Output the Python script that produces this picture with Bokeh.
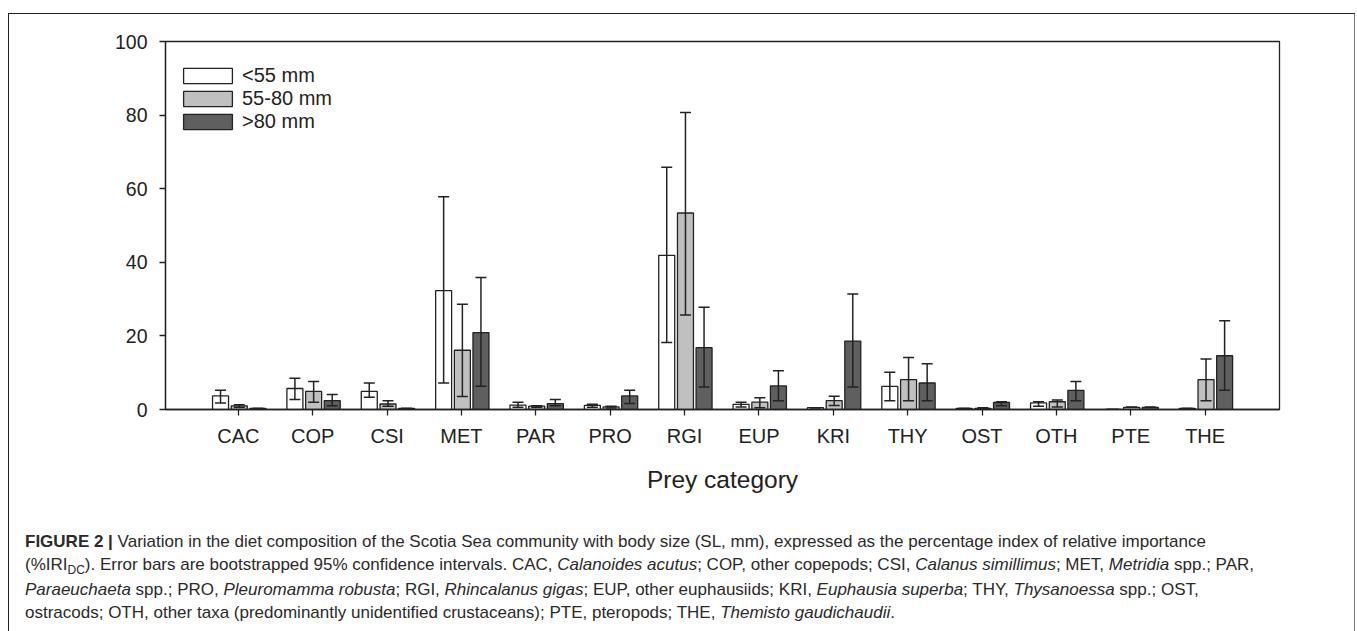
from bokeh.plotting import figure
from bokeh.models import (Range1d, FixedTicker, ColumnDataSource, Whisker, TeeHead,
                          Legend, LegendItem, Label, Div)
from bokeh.layouts import column
from bokeh.embed import file_html
from bokeh.resources import INLINE

categories = ["CAC", "COP", "CSI", "MET", "PAR", "PRO", "RGI", "EUP", "KRI", "THY",
              "OST", "OTH", "PTE", "THE"]
groups = ["<55 mm", "55-80 mm", ">80 mm"]

small_mean = [3.7, 5.7, 4.9, 32.3, 1.2, 1.1, 41.9, 1.4, 0.5, 6.3, 0.3, 1.8, 0.0, 0.3]
small_lo = [1.8, 2.7, 3.3, 7.2, 0.6, 0.6, 18.2, 0.7, 0.5, 2.4, 0.3, 0.9, 0.0, 0.3]
small_hi = [5.2, 8.5, 7.2, 57.8, 2.0, 1.4, 65.8, 2.0, 0.5, 10.1, 0.3, 2.1, 0.0, 0.3]

mid_mean = [1.0, 4.9, 1.5, 16.1, 0.9, 0.7, 53.4, 2.0, 2.4, 8.1, 0.3, 2.1, 0.6, 8.1]
mid_lo = [0.6, 2.0, 0.9, 3.5, 0.6, 0.4, 25.7, 0.5, 1.1, 2.4, 0.0, 0.7, 0.6, 2.4]
mid_hi = [1.3, 7.6, 2.4, 28.6, 1.0, 0.9, 80.7, 3.2, 3.6, 14.1, 0.5, 2.6, 0.6, 13.7]

large_mean = [0.3, 2.4, 0.3, 20.9, 1.6, 3.7, 16.8, 6.4, 18.6, 7.2, 1.9, 5.2, 0.6, 14.6]
large_lo = [0.3, 1.0, 0.3, 6.3, 1.0, 1.6, 6.1, 2.4, 6.1, 2.4, 1.0, 2.4, 0.6, 5.2]
large_hi = [0.3, 4.1, 0.3, 35.9, 2.7, 5.2, 27.8, 10.5, 31.4, 12.4, 2.1, 7.6, 0.6, 24.1]

series = [(small_mean, small_lo, small_hi), (mid_mean, mid_lo, mid_hi),
          (large_mean, large_lo, large_hi)]
fills = ["#ffffff", "#c0c0c0", "#5f5f5f"]
offsets = [-0.24, 0.012, 0.262]
bar_w = 0.215

FONT = "Liberation Sans"
INK = "#222222"

p = figure(width=1345, height=505, output_backend="svg", toolbar_location=None,
           x_range=Range1d(-0.98, 14.0), y_range=Range1d(0, 100),
           min_border_left=156, min_border_right=75, min_border_top=27,
           min_border_bottom=110)
p.grid.visible = False
p.outline_line_color = INK
p.outline_line_width = 1.3
p.background_fill_color = "white"
p.border_fill_color = "white"

idx = list(range(len(categories)))
renderers = []
for (mean, lo, hi), col, off in zip(series, fills, offsets):
    xs = [i + off for i in idx]
    src = ColumnDataSource(dict(x=xs, top=mean, lo=lo, hi=hi))
    r = p.vbar(x="x", top="top", width=bar_w, source=src, fill_color=col,
               line_color=INK, line_width=1.3)
    renderers.append(r)
    w = Whisker(base="x", upper="hi", lower="lo", source=src, level="annotation",
                line_color=INK, line_width=1.5,
                upper_head=TeeHead(size=11, line_color=INK, line_width=1.5),
                lower_head=TeeHead(size=11, line_color=INK, line_width=1.5))
    p.add_layout(w)

# axes
p.xaxis.ticker = FixedTicker(ticks=idx)
p.xaxis.major_label_overrides = {i: c for i, c in zip(idx, categories)}
p.xaxis.minor_tick_line_color = None
p.xaxis.major_tick_in = 0
p.xaxis.major_tick_out = 6
p.xaxis.major_label_standoff = 9
p.xaxis.major_label_text_font = FONT
p.xaxis.major_label_text_font_size = "20px"
p.xaxis.major_label_text_color = INK
p.xaxis.axis_label = "Prey category"
p.xaxis.axis_label_text_font = FONT
p.xaxis.axis_label_text_font_size = "24.5px"
p.xaxis.axis_label_text_font_style = "normal"
p.xaxis.axis_label_text_color = INK
p.xaxis.axis_label_standoff = 16

p.yaxis.ticker = FixedTicker(ticks=[0, 20, 40, 60, 80, 100])
p.yaxis.minor_tick_line_color = None
p.yaxis.major_tick_in = 0
p.yaxis.major_tick_out = 6
p.yaxis.major_label_standoff = 12
p.yaxis.major_label_text_font = FONT
p.yaxis.major_label_text_font_size = "19.5px"
p.yaxis.major_label_text_color = INK
for ax in (p.xaxis, p.yaxis):
    ax.axis_line_color = INK
    ax.axis_line_width = 1.3
    ax.major_tick_line_color = INK
    ax.major_tick_line_width = 1.3

# y-axis title with subscript
p.add_layout(Label(x=-70, y=149, x_units="screen", y_units="screen", text="%IRI",
                   angle=1.5708, text_align="left", text_baseline="alphabetic",
                   text_font=FONT, text_font_size="20px", text_color=INK))
p.add_layout(Label(x=-63, y=193, x_units="screen", y_units="screen", text="DC",
                   angle=1.5708, text_align="left", text_baseline="alphabetic",
                   text_font=FONT, text_font_size="16px", text_color=INK))

legend = Legend(items=[LegendItem(label=g, renderers=[r]) for g, r in zip(groups, renderers)],
                location=(12, 276), orientation="vertical", glyph_width=61, glyph_height=19,
                label_height=15, label_standoff=4, spacing=0, padding=0, margin=0,
                label_text_font=FONT, label_text_font_size="20px", label_text_color=INK,
                label_text_line_height=1.1,
                border_line_alpha=0, background_fill_alpha=0)
p.add_layout(legend)

caption_lines = [
    "<b>FIGURE 2 |</b> Variation in the diet composition of the Scotia Sea community with body size (SL, mm), expressed as the percentage index of relative importance",
    "(%IRI<span style='font-size:12px;position:relative;top:4px'>DC</span>). Error bars are bootstrapped 95% confidence intervals. CAC, <i>Calanoides acutus</i>; COP, other copepods; CSI, <i>Calanus simillimus</i>; MET, <i>Metridia</i> spp.; PAR,",
    "<i>Paraeuchaeta</i> spp.; PRO, <i>Pleuromamma robusta</i>; RGI, <i>Rhincalanus gigas</i>; EUP, other euphausiids; KRI, <i>Euphausia superba</i>; THY, <i>Thysanoessa</i> spp.; OST,",
    "ostracods; OTH, other taxa (predominantly unidentified crustaceans); PTE, pteropods; THE, <i>Themisto gaudichaudii</i>.",
]
caption = Div(text="<div style=\"font-family:'Liberation Sans',Arial,sans-serif;font-size:17px;"
                   "line-height:23px;color:#2a2a2a;white-space:nowrap;padding:11px 0 0 16px;\">"
                   + "<br>".join(caption_lines) + "</div>",
              width=1345, height=112, margin=(0, 0, 0, 0))

layout = column(p, caption, spacing=0,
                styles={"border-top": "1.5px solid #222", "border-left": "1.5px solid #222",
                        "border-right": "1.5px solid #777", "margin-top": "13px",
                        "margin-left": "8px"})

open("out.html", "w").write(file_html(layout, INLINE))
